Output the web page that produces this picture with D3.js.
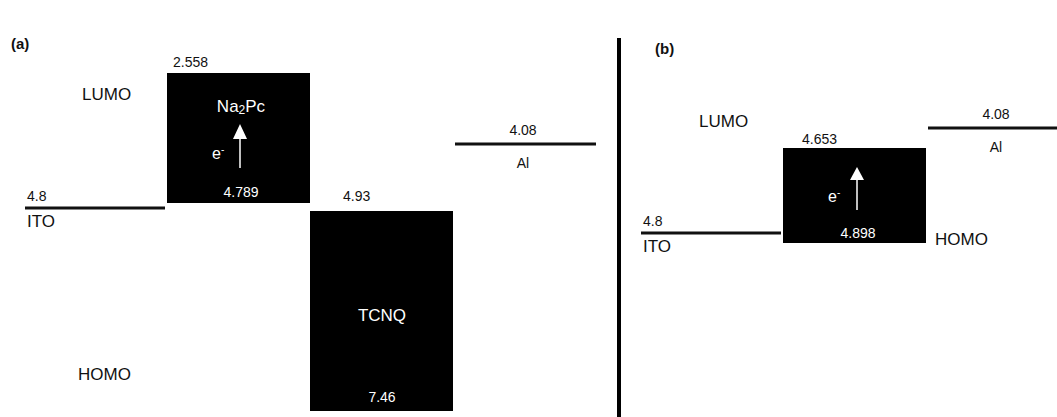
<!DOCTYPE html>
<html>
<head>
<meta charset="utf-8">
<script src="https://cdn.jsdelivr.net/npm/d3@7"></script>
<style>
  html, body { margin: 0; padding: 0; background: #fff; }
  svg { display: block; font-family: "Liberation Sans", Arial, sans-serif; }
</style>
</head>
<body>
<svg id="chart" width="1057" height="417"></svg>
<script>
// Energy levels (eV) of the device stack, panel (a): ITO / Na2Pc / TCNQ / Al
const layersA = ["ITO", "Na2Pc", "TCNQ", "Al"];
const lumoA = [null, 2.558, 4.93, null];
const homoA = [null, 4.789, 7.46, null];
const workFunctionA = [4.8, null, null, 4.08];

// Panel (b): ITO / Na2Pc / Al
const layersB = ["ITO", "Na2Pc", "Al"];
const lumoB = [null, 4.653, null];
const homoB = [null, 4.898, null];
const workFunctionB = [4.8, null, 4.08];

const svg = d3.select("#chart");
const ink = "#111";

// Schematic (broken) energy axis: piecewise-linear scales per panel
const energyA = d3.scaleLinear()
  .domain([2.558, 4.08, 4.789, 4.8, 4.93, 7.46])
  .range([73, 144, 203, 208, 211, 411]);
const energyB = d3.scaleLinear()
  .domain([4.08, 4.653, 4.8, 4.898])
  .range([128, 148, 233, 243]);

const layerXA = d3.scaleBand().domain(layersA).range([24, 596]);
const layerXB = d3.scaleBand().domain(layersB).range([640, 1069]);

function text(g, x, y, str, opts = {}) {
  return g.append("text")
    .attr("x", x).attr("y", y)
    .attr("font-size", opts.size || 17)
    .attr("font-weight", opts.weight || "normal")
    .attr("text-anchor", opts.anchor || "start")
    .attr("fill", opts.fill || ink)
    .text(str);
}

function drawPanel(cfg) {
  const g = svg.append("g");
  const { layers, lumo, homo, wf, x, y } = cfg;
  const bw = x.bandwidth();

  layers.forEach((name, i) => {
    const x0 = x(name);
    if (wf[i] != null) {
      // electrode work-function line
      const isLeft = i === 0;
      g.append("line")
        .attr("x1", x0 + (isLeft ? 1 : 2)).attr("x2", x0 + bw - (isLeft ? 2 : 0))
        .attr("y1", y(wf[i])).attr("y2", y(wf[i]))
        .attr("stroke", ink).attr("stroke-width", 3);
      if (isLeft) {
        text(g, x0 + 3, y(wf[i]) - 7, wf[i], { size: 14 });
        text(g, x0 + 3, y(wf[i]) + 19, name);
      } else {
        text(g, x0 + 70, y(wf[i]) - 9, wf[i].toFixed(2), { size: 14, anchor: "middle" });
        text(g, x0 + 70, y(wf[i]) + 24, name, { size: 14, anchor: "middle" });
      }
    }
    if (lumo[i] != null) {
      // HOMO–LUMO block of the organic layer
      const top = y(lumo[i]), bot = y(homo[i]);
      g.append("rect")
        .attr("x", x0).attr("y", top)
        .attr("width", bw).attr("height", bot - top)
        .attr("fill", "#000");
      cfg.decorate(g, name, x0, top, bot, lumo[i], homo[i]);
    }
  });
  return g;
}

function arrow(g, cx, tip, base, end) {
  g.append("path")
    .attr("d", `M${cx},${tip} L${cx - 7},${base} L${cx + 7},${base} Z`)
    .attr("fill", "#fff");
  g.append("line")
    .attr("x1", cx).attr("x2", cx).attr("y1", base).attr("y2", end)
    .attr("stroke", "#fff").attr("stroke-width", 1.5);
}

function electron(g, x, y) {
  const t = text(g, x, y, "e", { size: 16, fill: "#fff" });
  t.append("tspan").attr("font-size", 10).attr("dy", -6).text("-");
}

// ---- panel (a)
const gA = drawPanel({
  layers: layersA, lumo: lumoA, homo: homoA, wf: workFunctionA,
  x: layerXA, y: energyA,
  decorate(g, name, x0, top, bot, l, h) {
    if (name === "Na2Pc") {
      text(g, x0 + 6, top - 6, l.toFixed(3), { size: 14 });
      const t = text(g, x0 + 74, top + 39, "Na", { anchor: "middle", fill: "#fff" });
      t.append("tspan").attr("font-size", 12).attr("dy", 2).text("2");
      t.append("tspan").attr("dy", -2).text("Pc");
      arrow(g, x0 + 73, top + 51, top + 66, top + 95);
      electron(g, x0 + 45, top + 86);
      text(g, x0 + 74, bot - 6, h.toFixed(3), { size: 14, anchor: "middle", fill: "#fff" });
    } else {
      text(g, x0 + 33, top - 10, l.toFixed(2), { size: 14 });
      text(g, x0 + 72, (top + bot) / 2 + 10, name, { anchor: "middle", fill: "#fff" });
      text(g, x0 + 72, bot - 9, h.toFixed(2), { size: 14, anchor: "middle", fill: "#fff" });
    }
  }
});
text(gA, 11, 49, "(a)", { size: 15, weight: "bold" });
text(gA, 82, 100, "LUMO");
text(gA, 78, 380, "HOMO");

// ---- panel (b)
const gB = drawPanel({
  layers: layersB, lumo: lumoB, homo: homoB, wf: workFunctionB,
  x: layerXB, y: energyB,
  decorate(g, name, x0, top, bot, l, h) {
    text(g, x0 + 19, top - 4, l.toFixed(3), { size: 14 });
    arrow(g, x0 + 74, top + 19, top + 32, top + 62);
    electron(g, x0 + 45, top + 54);
    text(g, x0 + 75, bot - 5, h.toFixed(3), { size: 14, anchor: "middle", fill: "#fff" });
  }
});
text(gB, 655, 54, "(b)", { size: 15, weight: "bold" });
text(gB, 699, 127, "LUMO");
text(gB, 935, 245, "HOMO");

// divider between the two panels
svg.append("line")
  .attr("x1", 619).attr("x2", 619).attr("y1", 38).attr("y2", 417)
  .attr("stroke", "#000").attr("stroke-width", 4);
</script>
</body>
</html>
